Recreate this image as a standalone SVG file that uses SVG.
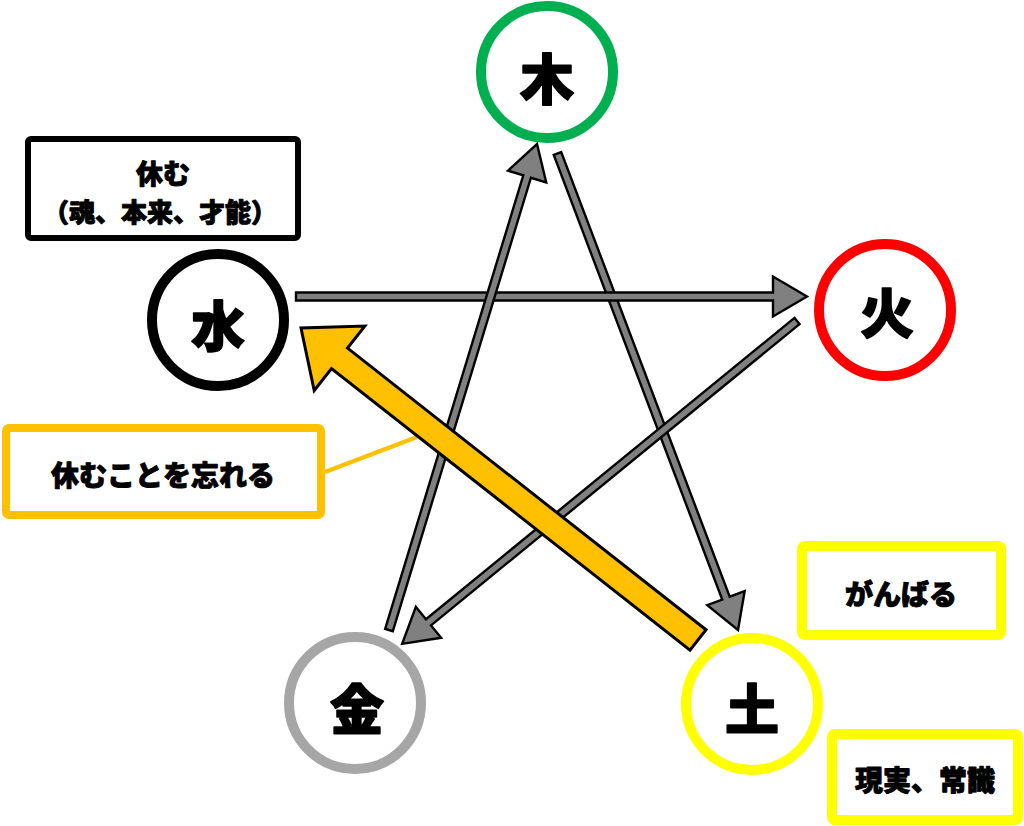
<svg xmlns="http://www.w3.org/2000/svg" width="1024" height="826" viewBox="0 0 1024 826">
<style>
.ring{fill:#fff;stroke-width:10}
.lbl{font-family:"Noto Sans CJK JP","Noto Sans CJK SC",sans-serif;font-weight:900;text-anchor:middle;dominant-baseline:central;fill:#000;stroke:#000;stroke-width:0.9;stroke-linejoin:round}
.big{font-size:54px;stroke-width:1.6}
.box{fill:#fff;rx:3px}
.txt{font-size:27px}
.garrow{fill:#808080;stroke:#000;stroke-width:2.4;stroke-linejoin:miter}
</style>
<rect width="1024" height="826" fill="#fff"/>

<g id="box-water">
<rect class="box" x="28" y="139" width="270" height="99" stroke="#000" stroke-width="6"/>
<text class="lbl txt" x="163" y="172" style="font-size:27px">休む</text>
<text class="lbl txt" x="160" y="210" style="font-size:26px">（魂、本来、才能）</text>
</g>
<g id="box-forget">
<rect class="box" x="6" y="428" width="315" height="87" stroke="#FFC000" stroke-width="8"/>
<text class="lbl txt" x="163" y="474" style="font-size:28px">休むことを忘れる</text>
</g>
<g id="box-ganbaru">
<rect class="box" x="802" y="546" width="199" height="89" stroke="#FFFF00" stroke-width="10"/>
<text class="lbl txt" x="901" y="593" style="font-size:28px">がんばる</text>
</g>
<g id="box-genjitsu">
<rect class="box" x="832" y="734" width="186" height="86" stroke="#FFFF00" stroke-width="10"/>
<text class="lbl txt" x="925" y="779" style="font-size:28px">現実、常識</text>
</g>

<g id="node-wood">
<circle class="ring" cx="547" cy="72" r="66" stroke="#00B050"/>
<text class="lbl big" x="547" y="76">木</text>
</g>
<g id="node-water">
<circle class="ring" cx="218" cy="320" r="66" stroke="#000"/>
<text class="lbl big" x="218" y="323">水</text>
</g>
<g id="node-fire">
<circle class="ring" cx="885" cy="310" r="66" stroke="#FF0000"/>
<text class="lbl big" x="887" y="310">火</text>
</g>
<g id="node-metal">
<circle class="ring" cx="355" cy="703" r="66" stroke="#A6A6A6"/>
<text class="lbl big" x="357" y="706">金</text>
</g>
<g id="node-earth">
<circle class="ring" cx="752" cy="704" r="66" stroke="#FFFF00"/>
<text class="lbl big" x="752" y="706">土</text>
</g>

<g id="connectors">
<line x1="325" y1="472" x2="417" y2="437" stroke="#FFC000" stroke-width="4.5"/>
<path class="garrow" transform="translate(557.5,153.5) rotate(69.25)" d="M0,-4 L475.5,-4 L475.5,-20 L509.5,0 L475.5,20 L475.5,4 L0,4 Z"/>
<path class="garrow" transform="translate(296,296.5)" d="M0,-4 L477,-4 L477,-20 L511,0 L477,20 L477,4 L0,4 Z"/>
<path class="garrow" transform="translate(797,321) rotate(140.73)" d="M0,-4 L476,-4 L476,-20 L510,0 L476,20 L476,4 L0,4 Z"/>
<path class="garrow" transform="translate(389,630) rotate(-73.06)" d="M0,-4 L474,-4 L474,-20 L508,0 L474,20 L474,4 L0,4 Z"/>
<path fill="#FFC000" stroke="#000" stroke-width="3" stroke-linejoin="miter" d="M706,629.8 L347.5,348.1 L364.8,326.1 L301,328 L314.2,390.5 L331.5,368.5 L690,650.2 Z"/>
</g>
</svg>
